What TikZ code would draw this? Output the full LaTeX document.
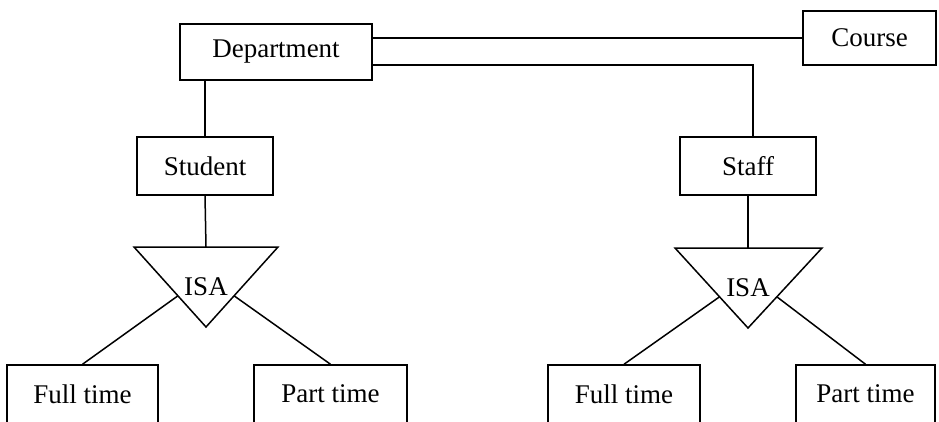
\documentclass[tikz,border=0pt]{standalone}
\usepackage{fontspec}
\setmainfont{Liberation Serif}
\usetikzlibrary{calc}
\begin{document}
\begin{tikzpicture}[x=1pt,y=-1pt,line width=1.5pt,
  entity/.style={draw,rectangle,inner sep=0pt,line width=1.5pt,
    font=\fontsize{27}{30}\selectfont},
  isatext/.style={inner sep=0pt,font=\fontsize{27}{30}\selectfont},
  link/.style={line width=1.5pt}]
\useasboundingbox (0,0) rectangle (939,421);
\clip (0,0) rectangle (939,421);

% entities
\node[entity,minimum width=192pt,minimum height=56pt] (dept) at (276,52) {Department};
\node[entity,minimum width=133pt,minimum height=54pt] (course) at (869.5,38) {Course};
\node[entity,minimum width=136pt,minimum height=58pt] (student) at (205,166) {Student};
\node[entity,minimum width=136pt,minimum height=58pt] (staff) at (748,166) {Staff};
\node[entity,minimum width=151pt,minimum height=58pt] (ftL) at (82.5,394) {Full time};
\node[entity,minimum width=153pt,minimum height=58pt] (ptL) at (330.5,394) {Part time};
\node[entity,minimum width=152pt,minimum height=58pt] (ftR) at (624,394) {Full time};
\node[entity,minimum width=139pt,minimum height=58pt] (ptR) at (865.5,394) {Part time};

% ISA triangles
\coordinate (tlL) at (134,247);
\coordinate (trL) at (278,247);
\coordinate (apL) at (206,327);
\coordinate (topL) at (206,247);
\draw[link,line join=miter] (tlL) -- (trL) -- (apL) -- cycle;
\node[isatext] (isaL) at (206,287) {ISA};

\coordinate (tlR) at (675,248);
\coordinate (trR) at (822,248);
\coordinate (apR) at (748,328);
\coordinate (topR) at (748,248);
\draw[link,line join=miter] (tlR) -- (trR) -- (apR) -- cycle;
\node[isatext] (isaR) at (748,288) {ISA};

% points on the triangle sides where the subclass lines leave
\coordinate (slL) at ($(tlL)!0.61!(apL)$);
\coordinate (srL) at ($(trL)!0.61!(apL)$);
\coordinate (slR) at ($(tlR)!0.61!(apR)$);
\coordinate (srR) at ($(trR)!0.61!(apR)$);

% relationships
\draw[link] (dept.east |- course.west) -- (course.west);
\coordinate (bend) at (753,65);
\draw[link] ([yshift=-13pt]dept.east) -- (bend) -- (bend |- staff.north);
\draw[link] (student.north) -- (student.north |- dept.south);
\draw[link] (student.south) -- (topL);
\draw[link] (staff.south) -- (topR);
\draw[link] (slL) -- (ftL.north);
\draw[link] (srL) -- (ptL.north);
\draw[link] (slR) -- (ftR.north);
\draw[link] (srR) -- (ptR.north);
\end{tikzpicture}
\end{document}
